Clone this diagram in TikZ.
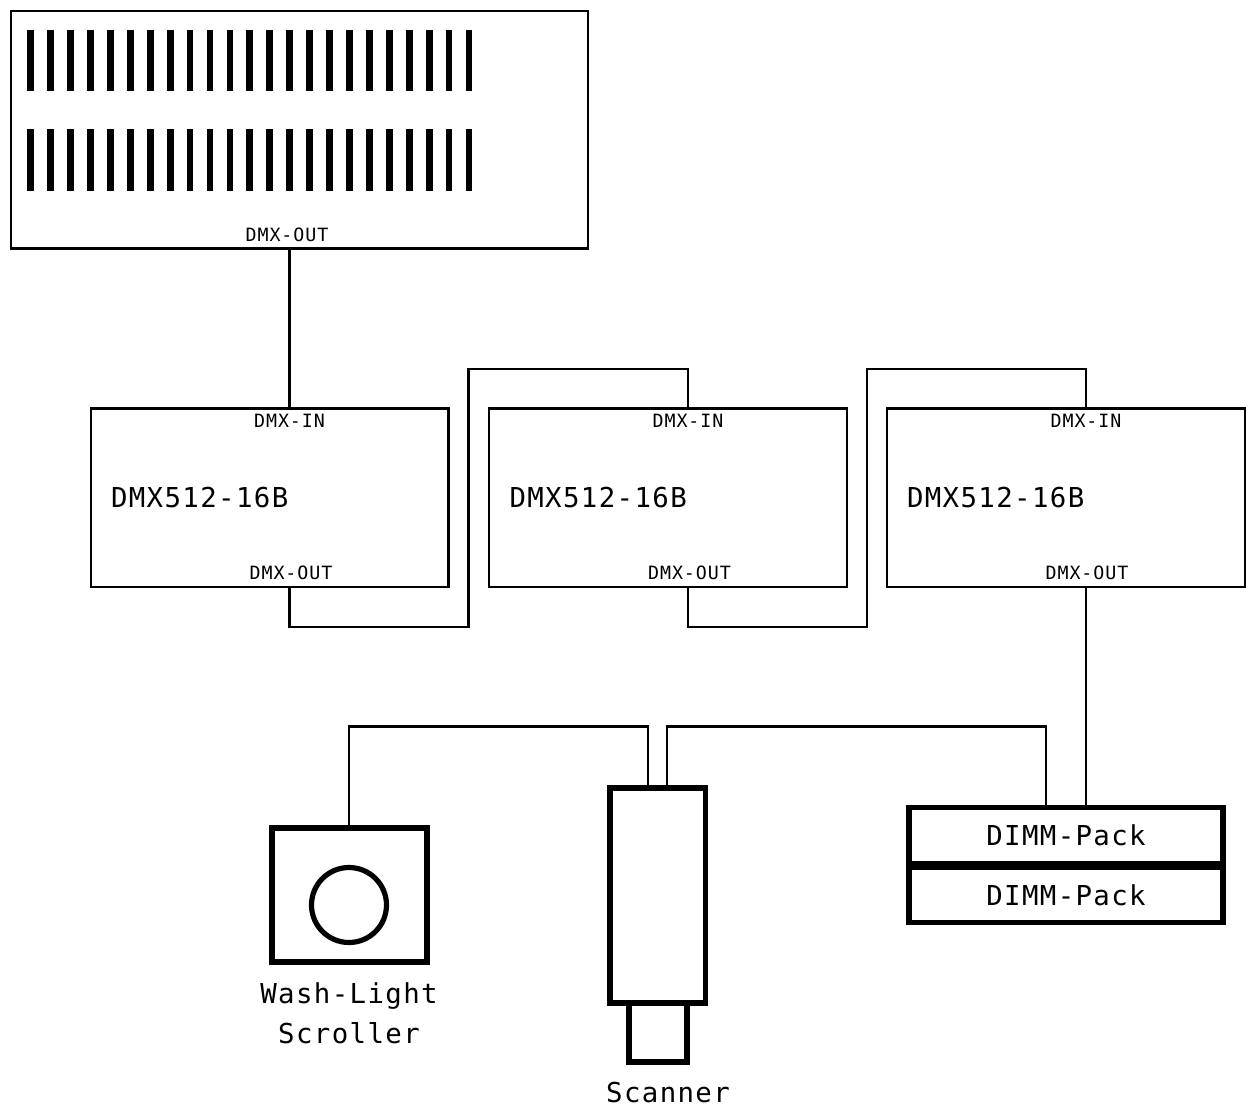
\documentclass[tikz,border=0pt]{standalone}
\usepackage{fontspec}
\setmainfont[LetterSpace=5]{DejaVu Sans Mono}
\tikzset{
  x=0.5pt,y=-0.5pt,
  thinbox/.style={draw=black,line width=1.1pt,fill=white,inner sep=0pt,outer sep=0pt},
  thickbox/.style={draw=black,line width=2.95pt,fill=white,inner sep=0pt,outer sep=0pt},
  lamp/.style={circle,draw=black,line width=2.6pt,inner sep=0pt,outer sep=0pt,minimum size=37.5pt},
  wire/.style={draw=black,line width=1.05pt},
  bar/.style={fill=black},
  smalltext/.style={inner sep=0pt,outer sep=0pt,anchor=base,font=\fontsize{9.15}{12}\selectfont},
  bigtext/.style={inner sep=0pt,outer sep=0pt,anchor=base,font=\fontsize{13.7}{18}\selectfont},
  biglabel/.style={inner sep=0pt,outer sep=0pt,anchor=base west,font=\fontsize{13.7}{18}\selectfont},
}
\begin{document}
\begin{tikzpicture}
\useasboundingbox[fill=white] (0,0) rectangle (1246,1106);
% console
\node[thinbox,minimum width=288.5pt,minimum height=118.75pt] (console) at (299.5,129.75) {};
\foreach \i in {0,...,22}{
  \fill[bar] ({30.7+19.92*\i-3.4},30) rectangle ({30.7+19.92*\i+3.4},91);
  \fill[bar] ({30.7+19.92*\i-3.4},129) rectangle ({30.7+19.92*\i+3.4},191);
}
\node[smalltext] (consoleout) at (287,242) {DMX-OUT};
% modules
\node[thinbox,minimum width=178.75pt,minimum height=89.25pt] (modA) at (269.75,497.75) {};
\node[thinbox,minimum width=178.75pt,minimum height=89.25pt] (modB) at (668,497.75) {};
\node[thinbox,minimum width=178.75pt,minimum height=89.25pt] (modC) at (1066,497.75) {};
\node[smalltext] (inA) at (289.5,428) {DMX-IN};
\node[smalltext] (inB) at (688,428) {DMX-IN};
\node[smalltext] (inC) at (1086,428) {DMX-IN};
\node[smalltext] (outA) at (291,579) {DMX-OUT};
\node[smalltext] (outB) at (689.5,579) {DMX-OUT};
\node[smalltext] (outC) at (1087,579) {DMX-OUT};
\node[biglabel] (nameA) at (111,508) {DMX512-16B};
\node[biglabel] (nameB) at (509.5,508) {DMX512-16B};
\node[biglabel] (nameC) at (907,508) {DMX512-16B};
% dimmers
\node[thickbox,minimum width=157pt,minimum height=28pt] (dimmA) at (1066,835.5) {};
\node[thickbox,minimum width=157pt,minimum height=27.5pt] (dimmB) at (1066,895) {};
\node[bigtext] (dimmAt) at (1066,845) {DIMM-Pack};
\node[bigtext] (dimmBt) at (1066,905) {DIMM-Pack};
% wash light
\node[thickbox,minimum width=77.5pt,minimum height=67pt] (wash) at (349.5,895) {};
\node[lamp] (lens) at (349,905) {};
\node[bigtext] (washa) at (349,1003) {Wash-Light};
\node[bigtext] (washb) at (349,1043) {Scroller};
% scanner
\node[thickbox,minimum width=29pt,minimum height=29.5pt] (scanhead) at (658,1032.5) {};
\node[thickbox,minimum width=47.75pt,minimum height=107.5pt] (scanbody) at (657.75,895.5) {};
\node[bigtext] (scanlabel) at (668,1102.5) {Scanner};
% connectors
\coordinate (pC) at (289.5,248.5);
\coordinate (pAi) at (289.5,408.5);
\coordinate (pAo) at (289.5,587);
\coordinate (pBi) at (688,408.5);
\coordinate (pBo) at (688,587);
\coordinate (pCi) at (1086,408.5);
\coordinate (pCo) at (1086,587);
\coordinate (pDa) at (1086,805);
\coordinate (pDb) at (1046,805);
\coordinate (pSr) at (667,785);
\coordinate (pSl) at (648,785);
\coordinate (pW) at (349,825);
\path[wire] (pC) -- (pAi);
\path[wire] (pAo) -- (289.5,627) -- (468.5,627) -- (468.5,369) -- (688,369) -- (pBi);
\path[wire] (pBo) -- (688,627) -- (867,627) -- (867,369) -- (1086,369) -- (pCi);
\path[wire] (pCo) -- (pDa);
\path[wire] (pDb) -- (1046,726.5) -- (667,726.5) -- (pSr);
\path[wire] (pSl) -- (648,726.5) -- (349,726.5) -- (pW);
\end{tikzpicture}
\end{document}
